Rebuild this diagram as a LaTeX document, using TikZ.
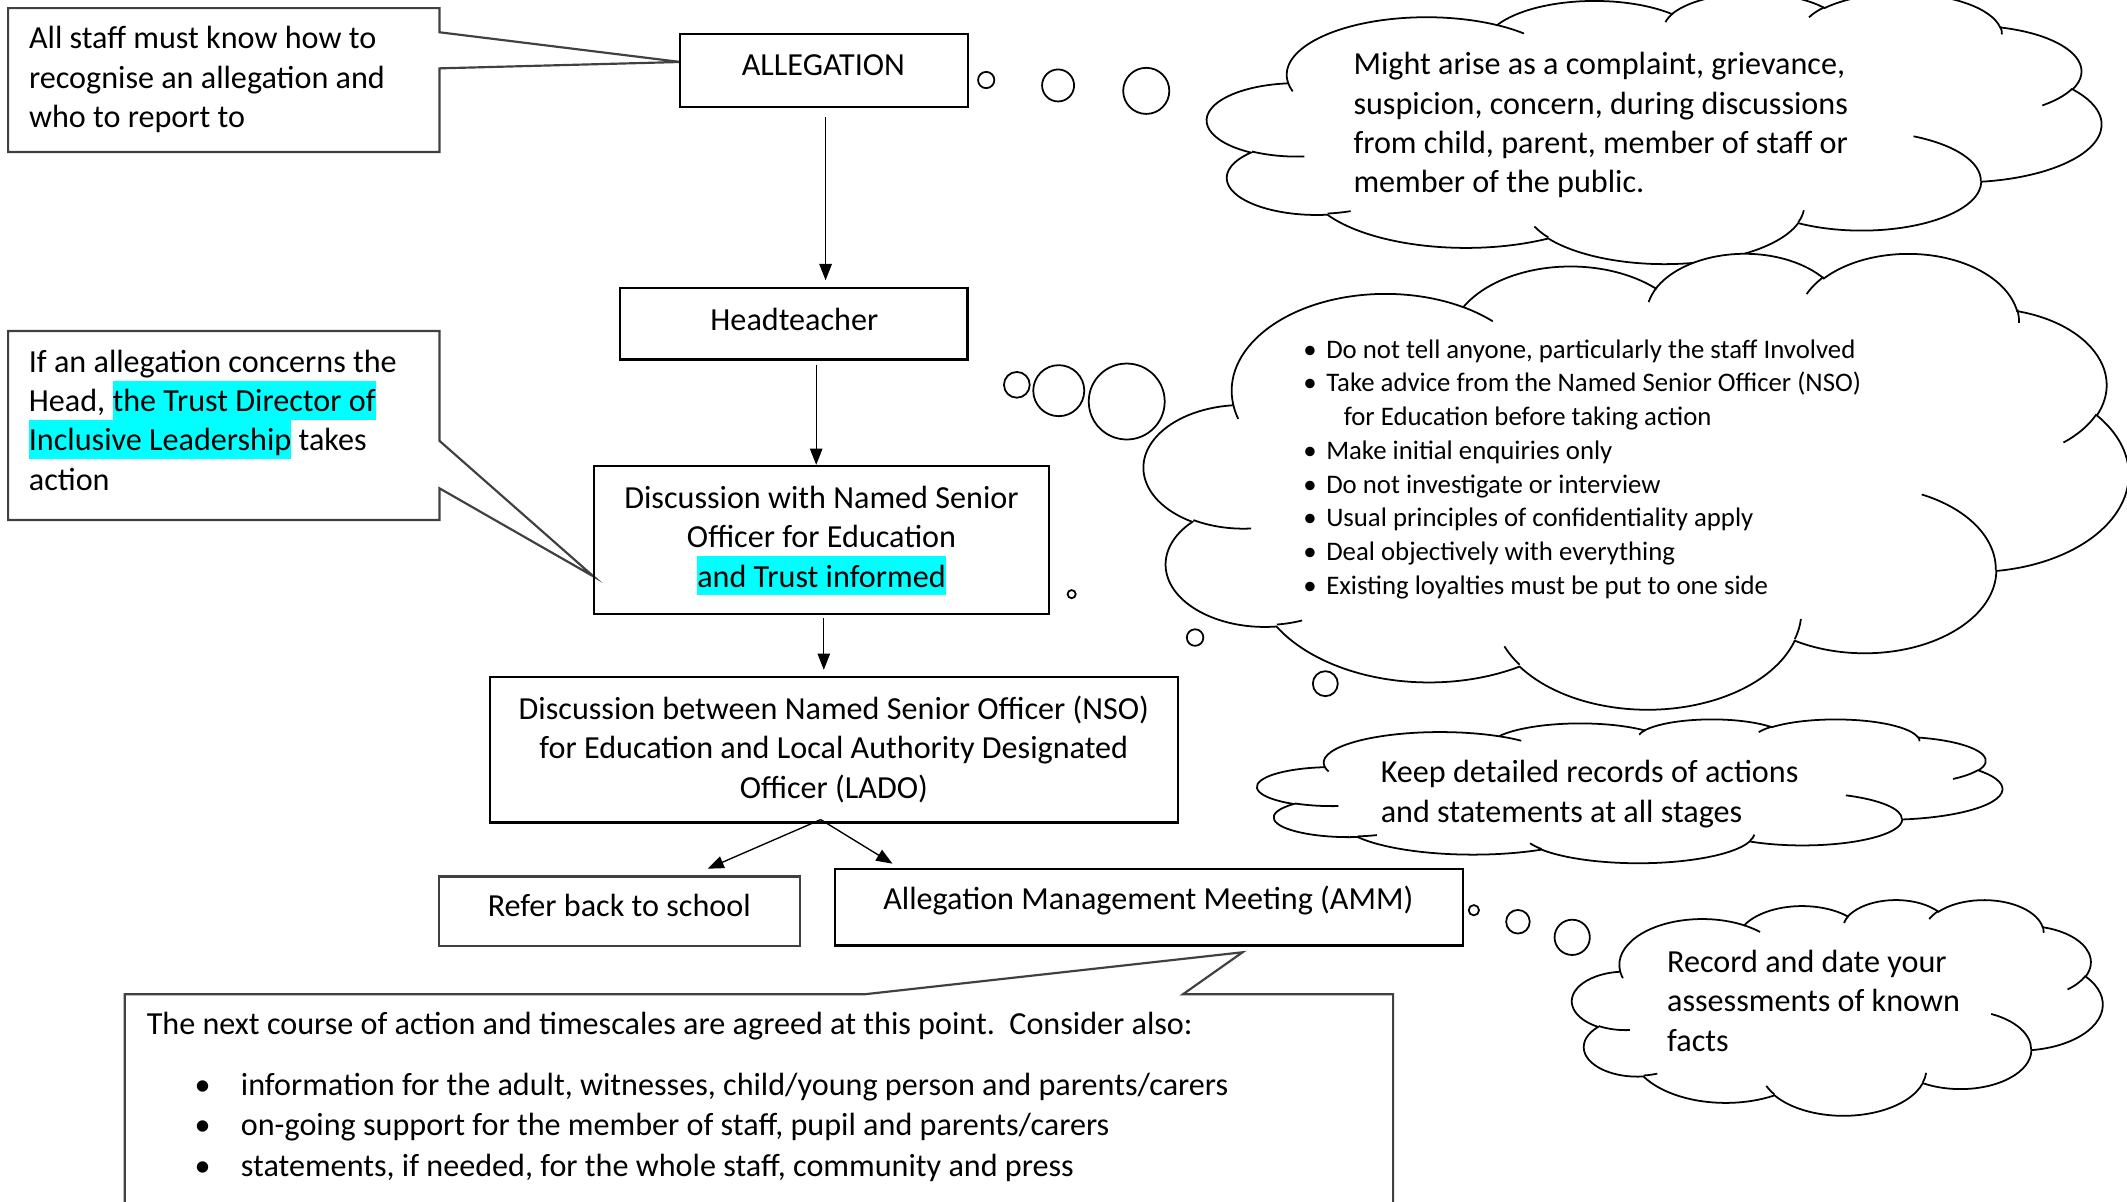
\documentclass[tikz,border=0pt]{standalone}
\usepackage{fontspec}
\setmainfont{Carlito}
\usetikzlibrary{arrows.meta}
\definecolor{hlcyan}{RGB}{0,255,255}
\newcommand\hlt[1]{{\setlength\fboxsep{0pt}\colorbox{hlcyan}{\rule[-3pt]{0pt}{14.3pt}#1}}}
\newcommand\tightlines{\lineskiplimit=-100pt\relax}
\tikzset{
  declare function={
    cang(\pA,\pB,\pT)=atan2(\pA*sin(\pT),\pB*cos(\pT));
    cdel(\pA,\pB,\pT,\pS)=mod(cang(\pA,\pB,\pT+\pS)-cang(\pA,\pB,\pT)+720,360);
  },
  flowbox/.style={draw=black, line width=0.8pt, inner sep=0pt},
  callout/.style={draw=black!75, line width=0.8pt, fill=white},
  cloudline/.style={draw=black, line width=0.65pt, fill=white},
  cloudmark/.style={draw=black, line width=0.65pt},
  bubble/.style={draw=black, line width=0.65pt, fill=white},
  arr/.style={-{Triangle[length=6pt,width=4.6pt]}, line width=0.5pt},
  txt/.style={inner sep=0pt, font=\fontsize{11.85}{14.5}\selectfont\tightlines},
  smalltxt/.style={inner sep=0pt, font=\fontsize{9.87}{12.43}\selectfont\tightlines},
}
\newcommand\carc[4]{arc[x radius=#1, y radius=#2, start angle={cang(#1,#2,#3)}, delta angle={cdel(#1,#2,#3,#4)}]}
\newcommand\wordcloud[4]{%
  \pgfmathsetmacro\cwx{(#3-#1)/432*0.5}%
  \pgfmathsetmacro\cwy{(#4-#2)/432*0.5}%
  \begin{scope}[shift={(#1,#2)}, x=1pt, y=1pt, xscale=\cwx, yscale=-\cwy]
    \path[cloudline] (39.00,143.70)
      \carc{67.53}{91.90}{-190.4875}{123.7805}
      \carc{53.33}{72.67}{-144.1024}{89.9452}
      \carc{43.65}{59.45}{-145.8079}{99.7230}
      \carc{48.57}{65.95}{-130.9861}{117.2417}
      \carc{53.33}{72.73}{-78.7089}{109.0269}
      \carc{67.75}{92.20}{-46.2673}{130.2690}
      \carc{57.85}{78.67}{0.6250}{114.0333}
      \carc{67.52}{92.15}{22.4516}{115.1726}
      \carc{77.20}{105.43}{66.2426}{75.7110}
      \carc{43.60}{59.18}{-274.9421}{146.7356}
      \carc{43.45}{59.45}{-246.8285}{152.5189}
      -- cycle;
    \path[cloudmark]
      (46.93,261.77) \carc{43.45}{59.45}{86.7420}{26.4295}
      (69.28,348.99) \carc{43.60}{59.18}{73.6105}{11.4475}
      (164.78,390.90) \carc{67.52}{92.15}{137.6242}{14.0811}
      (288.27,347.51) \carc{67.52}{92.15}{6.4533}{15.9984}
      (341.29,229.54) \carc{57.85}{78.67}{-70.2924}{70.9174}
      (417.98,153.54) \carc{53.33}{72.73}{30.3180}{27.7515}
      (383.24,54.26) \carc{48.57}{65.95}{-13.7443}{14.8589}
      (290.78,39.52) \carc{48.57}{65.95}{-149.1815}{18.1954}
      (221.41,47.20) \carc{43.65}{59.45}{-163.4943}{17.6864}
      (140.00,51.92) \carc{67.53}{91.90}{-66.7070}{12.3194}
      (41.27,157.89) \carc{67.53}{91.90}{157.6544}{11.8582};
  \end{scope}}
\begin{document}
\begin{tikzpicture}[x=0.5pt, y=-0.5pt]
\useasboundingbox (0,0) rectangle (1568,886);
\clip (0,0) rectangle (1568,886);

% ---------- thought clouds ----------
\wordcloud{890}{-5.5}{1549}{194}
\wordcloud{843.5}{186}{1569}{522}
\wordcloud{927}{530}{1476}{636}
\wordcloud{1159}{663}{1550}{822}

% bubbles
\draw[bubble] (727,59) circle[radius=3pt];
\draw[bubble] (780,63) circle[radius=5.9pt];
\draw[bubble] (845,67) circle[radius=8.5pt];
\draw[bubble] (749.6,283.7) circle[radius=4.75pt];
\draw[bubble] (780.5,288) circle[radius=9.4pt];
\draw[bubble] (830.6,296) circle[radius=14pt];
\draw[bubble] (790,438) circle[radius=1.5pt];
\draw[bubble] (881,470) circle[radius=3.05pt];
\draw[bubble] (977,504) circle[radius=4.6pt];
\draw[bubble] (1086.5,671) circle[radius=1.9pt];
\draw[bubble] (1119,679.5) circle[radius=4.35pt];
\draw[bubble] (1159,691) circle[radius=6.5pt];

% cloud texts
\node[txt, anchor=north west, align=left] (c1t) at (997.4,34.4)
  {\strut Might arise as a complaint, grievance,\\suspicion, concern, during discussions\\from child, parent, member of staff or\\member of the public.};
\node[smalltxt, anchor=north west, align=left] (c2t) at (960.5,246.2)
  {\strut\makebox[8.4pt][l]{•}Do not tell anyone, particularly the staff Involved\\
   \makebox[8.4pt][l]{•}Take advice from the Named Senior Officer (NSO)\\
   \hspace*{14.85pt}for Education before taking action\\
   \makebox[8.4pt][l]{•}Make initial enquiries only\\
   \makebox[8.4pt][l]{•}Do not investigate or interview\\
   \makebox[8.4pt][l]{•}Usual principles of confidentiality apply\\
   \makebox[8.4pt][l]{•}Deal objectively with everything\\
   \makebox[8.4pt][l]{•}Existing loyalties must be put to one side};
\node[txt, anchor=north west, align=left] (c3t) at (1017.5,556.4)
  {\strut Keep detailed records of actions\\and statements at all stages};
\node[txt, anchor=north west, align=left] (c4t) at (1228.6,696.2)
  {\strut Record and date your\\assessments of known\\facts};

% ---------- callouts ----------
\draw[callout] (6,6) -- (324,6) -- (324,23.8) -- (501.6,45.7) -- (324,50.4)
  -- (324,112) -- (6,112) -- cycle;
\node[txt, anchor=north west, align=left] (note1) at (21,15.3)
  {\strut All staff must know how to\\recognise an allegation and\\who to report to};

\draw[callout] (6,244) -- (324,244) -- (324,325) -- (437.6,425) -- (324,360)
  -- (324,383.3) -- (6,383.3) -- cycle;
\node[txt, anchor=north west, align=left] (note2) at (20.9,253.7)
  {\strut If an allegation concerns the\\Head, \hlt{the Trust Director of}\\\hlt{Inclusive Leadership} takes\\action};

\draw[callout] (92,733) -- (637,733) -- (916,702) -- (872,733) -- (1027,733)
  -- (1027,900) -- (92,900) -- cycle;
\node[txt, anchor=north west, align=left, font=\fontsize{11.85}{15}\selectfont\tightlines] (note3) at (107.8,741.3)
  {\strut The next course of action and timescales are agreed at this point.\ \ Consider also:\\[7.35pt]
   \hspace*{17.6pt}\makebox[17.1pt][l]{•}information for the adult, witnesses, child/young person and parents/carers\\
   \hspace*{17.6pt}\makebox[17.1pt][l]{•}on-going support for the member of staff, pupil and parents/carers\\
   \hspace*{17.6pt}\makebox[17.1pt][l]{•}statements, if needed, for the whole staff, community and press};

% ---------- flow boxes ----------
\node[flowbox, minimum width=106pt, minimum height=26.65pt] (alleg) at (607.5,52) {};
\node[txt, anchor=base] (allegT) at (607,56) {ALLEGATION};

\node[flowbox, minimum width=128.25pt, minimum height=26.3pt] (head) at (585,238.7) {};
\node[txt, anchor=base] (headT) at (585.6,243.9) {Headteacher};

\node[flowbox, minimum width=167.7pt, minimum height=54.5pt] (disc1) at (605.3,398) {};
\node[txt, anchor=north, align=center] (disc1T) at (605.6,354.1)
  {\strut Discussion with Named Senior\\Officer for Education\\\hlt{and Trust informed}};

\node[flowbox, minimum width=253.5pt, minimum height=53.7pt] (nso) at (615,552.7) {};
\node[txt, anchor=north, align=center] (nsoT) at (614.7,509.7)
  {\strut Discussion between Named Senior Officer (NSO)\\for Education and Local Authority Designated\\Officer (LADO)};

\node[flowbox, draw=black!75, minimum width=133pt, minimum height=25.55pt] (refer) at (456.8,671.65) {};
\node[txt, anchor=base] (referT) at (456.5,675.6) {Refer back to school};

\node[flowbox, minimum width=231.35pt, minimum height=28.25pt] (amm) at (846.95,668.75) {};
\node[txt, anchor=base] (ammT) at (846.5,670.7) {Allegation Management Meeting (AMM)};

% ---------- connectors ----------
\draw[arr, shorten <=3.4pt, shorten >=2.5pt] ([xshift=0.55pt]alleg.south) -- ([xshift=0.55pt]alleg.south |- head.north);
\draw[arr, shorten <=1.65pt] ([xshift=8.35pt]head.south) -- ([xshift=8.35pt]head.south |- disc1.north);
\draw[arr, shorten <=1.25pt, shorten >=2.2pt] ([xshift=1pt]disc1.south) -- ([xshift=1pt]disc1.south |- nso.north);
\draw[arr] ([xshift=-5pt,yshift=1.5pt]nso.south) -- ([xshift=32.4pt,yshift=2.45pt]refer.north);
\draw[arr] ([xshift=-5pt,yshift=1.5pt]nso.south) -- ([xshift=-94.5pt,yshift=1.5pt]amm.north);
\end{tikzpicture}
\end{document}
